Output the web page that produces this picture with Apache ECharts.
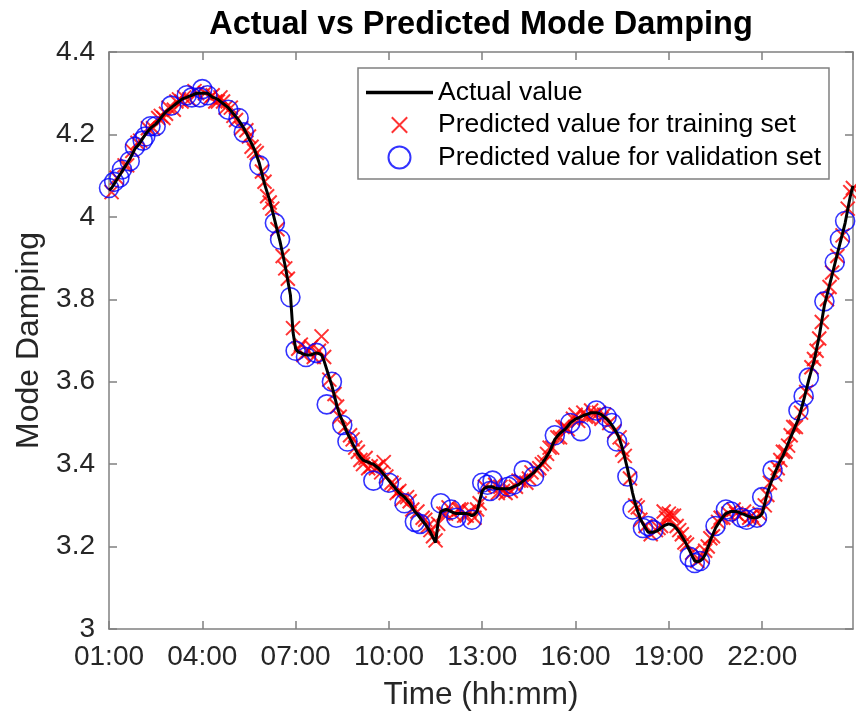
<!DOCTYPE html>
<html>
<head>
<meta charset="utf-8">
<script src="https://cdn.jsdelivr.net/npm/echarts@6/dist/echarts.min.js"></script>
<style>html,body{margin:0;padding:0;background:#fff;}#c{width:856px;height:716px;}</style>
</head>
<body>
<div id="c"></div>
<script>
const times = [
"01:00","01:05","01:10","01:15","01:20","01:25","01:30","01:35","01:40","01:45","01:50","01:55",
"02:00","02:05","02:10","02:15","02:20","02:25","02:30","02:35","02:40","02:45","02:50","02:55",
"03:00","03:05","03:10","03:15","03:20","03:25","03:30","03:35","03:40","03:45","03:50","03:55",
"04:00","04:05","04:10","04:15","04:20","04:25","04:30","04:35","04:40","04:45","04:50","04:55",
"05:00","05:05","05:10","05:15","05:20","05:25","05:30","05:35","05:40","05:45","05:50","05:55",
"06:00","06:05","06:10","06:15","06:20","06:25","06:30","06:35","06:40","06:45","06:50","06:55",
"07:00","07:05","07:10","07:15","07:20","07:25","07:30","07:35","07:40","07:45","07:50","07:55",
"08:00","08:05","08:10","08:15","08:20","08:25","08:30","08:35","08:40","08:45","08:50","08:55",
"09:00","09:05","09:10","09:15","09:20","09:25","09:30","09:35","09:40","09:45","09:50","09:55",
"10:00","10:05","10:10","10:15","10:20","10:25","10:30","10:35","10:40","10:45","10:50","10:55",
"11:00","11:05","11:10","11:15","11:20","11:25","11:30","11:35","11:40","11:45","11:50","11:55",
"12:00","12:05","12:10","12:15","12:20","12:25","12:30","12:35","12:40","12:45","12:50","12:55",
"13:00","13:05","13:10","13:15","13:20","13:25","13:30","13:35","13:40","13:45","13:50","13:55",
"14:00","14:05","14:10","14:15","14:20","14:25","14:30","14:35","14:40","14:45","14:50","14:55",
"15:00","15:05","15:10","15:15","15:20","15:25","15:30","15:35","15:40","15:45","15:50","15:55",
"16:00","16:05","16:10","16:15","16:20","16:25","16:30","16:35","16:40","16:45","16:50","16:55",
"17:00","17:05","17:10","17:15","17:20","17:25","17:30","17:35","17:40","17:45","17:50","17:55",
"18:00","18:05","18:10","18:15","18:20","18:25","18:30","18:35","18:40","18:45","18:50","18:55",
"19:00","19:05","19:10","19:15","19:20","19:25","19:30","19:35","19:40","19:45","19:50","19:55",
"20:00","20:05","20:10","20:15","20:20","20:25","20:30","20:35","20:40","20:45","20:50","20:55",
"21:00","21:05","21:10","21:15","21:20","21:25","21:30","21:35","21:40","21:45","21:50","21:55",
"22:00","22:05","22:10","22:15","22:20","22:25","22:30","22:35","22:40","22:45","22:50","22:55",
"23:00","23:05","23:10","23:15","23:20","23:25","23:30","23:35","23:40","23:45","23:50","23:55",
"00:00","00:05","00:10","00:15","00:20","00:25","00:30","00:35","00:40","00:45","00:50","00:55"
];
const actualValue = [
4.065,4.07,4.08,4.09,4.10,4.11,4.12,4.13,4.14,4.152,4.165,4.172,
4.18,4.19,4.20,4.208,4.215,4.22,4.225,4.232,4.24,4.248,4.255,4.26,
4.265,4.27,4.275,4.28,4.285,4.288,4.29,4.293,4.295,4.298,4.30,4.30,
4.30,4.30,4.30,4.295,4.29,4.288,4.285,4.28,4.275,4.27,4.265,4.258,
4.25,4.243,4.235,4.225,4.215,4.203,4.19,4.178,4.165,4.148,4.13,4.105,
4.08,4.06,4.04,4.015,3.99,3.965,3.94,3.91,3.88,3.845,3.81,3.72,
3.68,3.672,3.67,3.667,3.665,3.665,3.665,3.668,3.67,3.668,3.665,3.65,
3.63,3.61,3.59,3.565,3.54,3.52,3.505,3.49,3.475,3.462,3.45,3.437,
3.425,3.417,3.41,3.407,3.405,3.402,3.40,3.395,3.39,3.383,3.375,3.368,
3.36,3.352,3.345,3.337,3.33,3.325,3.32,3.312,3.305,3.295,3.285,3.278,
3.27,3.262,3.255,3.245,3.235,3.222,3.21,3.26,3.285,3.288,3.29,3.288,
3.285,3.282,3.28,3.28,3.28,3.28,3.28,3.278,3.275,3.278,3.285,3.31,
3.335,3.342,3.345,3.345,3.345,3.342,3.34,3.34,3.34,3.34,3.34,3.342,
3.345,3.348,3.35,3.355,3.36,3.365,3.37,3.375,3.38,3.388,3.395,3.402,
3.41,3.42,3.43,3.445,3.46,3.468,3.475,3.48,3.485,3.492,3.50,3.505,
3.51,3.512,3.515,3.518,3.52,3.522,3.525,3.525,3.525,3.523,3.52,3.515,
3.51,3.503,3.495,3.485,3.475,3.46,3.44,3.415,3.39,3.36,3.33,3.305,
3.285,3.268,3.255,3.245,3.235,3.235,3.235,3.237,3.24,3.245,3.25,3.253,
3.255,3.253,3.25,3.243,3.235,3.225,3.215,3.203,3.19,3.177,3.165,3.163,
3.165,3.17,3.18,3.197,3.215,3.23,3.245,3.255,3.265,3.273,3.28,3.283,
3.285,3.285,3.285,3.283,3.28,3.278,3.275,3.273,3.27,3.27,3.27,3.273,
3.28,3.305,3.33,3.348,3.365,3.38,3.395,3.408,3.42,3.435,3.45,3.465,
3.48,3.495,3.51,3.532,3.555,3.58,3.605,3.628,3.65,3.68,3.71,3.748,
3.785,3.81,3.835,3.86,3.885,3.91,3.935,3.96,3.985,4.018,4.05,4.075
];
const predictedValue = [
4.07,4.06,4.085,4.095,4.095,4.115,4.125,4.125,4.135,4.16,4.17,4.18,
4.185,4.185,4.195,4.215,4.22,4.215,4.22,4.24,4.245,4.24,4.25,4.265,
4.27,4.26,4.28,4.285,4.28,4.29,4.295,4.285,4.29,4.305,4.30,4.29,
4.31,4.30,4.295,4.29,4.295,4.28,4.28,4.29,4.28,4.265,4.26,4.265,
4.245,4.235,4.24,4.215,4.205,4.21,4.195,4.17,4.16,4.155,4.125,4.11,
4.085,4.05,4.035,4.02,3.985,3.97,3.945,3.905,3.875,3.85,3.805,3.73,
3.675,3.68,3.69,3.665,3.66,3.675,3.685,3.66,3.67,3.675,3.71,3.66,
3.545,3.605,3.60,3.57,3.54,3.515,3.495,3.49,3.455,3.47,3.46,3.44,
3.43,3.41,3.40,3.415,3.39,3.395,3.36,3.39,3.395,3.38,3.405,3.37,
3.355,3.355,3.35,3.33,3.335,3.315,3.305,3.32,3.31,3.29,3.26,3.285,
3.255,3.27,3.265,3.25,3.24,3.225,3.215,3.255,3.305,3.28,3.28,3.295,
3.29,3.28,3.27,3.29,3.29,3.275,3.275,3.285,3.265,3.27,3.29,3.305,
3.355,3.345,3.35,3.335,3.36,3.35,3.33,3.345,3.335,3.33,3.345,3.335,
3.35,3.345,3.36,3.36,3.385,3.355,3.365,3.38,3.37,3.385,3.39,3.40,
3.405,3.425,3.44,3.44,3.47,3.465,3.465,3.49,3.49,3.485,3.50,3.51,
3.52,3.505,3.48,3.525,3.515,3.515,3.53,3.52,3.53,3.525,3.51,3.52,
3.515,3.50,3.50,3.48,3.455,3.465,3.435,3.42,3.37,3.365,3.29,3.30,
3.295,3.265,3.245,3.25,3.25,3.23,3.24,3.24,3.245,3.25,3.285,3.27,
3.28,3.275,3.275,3.25,3.24,3.23,3.21,3.205,3.175,3.185,3.16,3.165,
3.165,3.175,3.19,3.20,3.22,3.225,3.25,3.26,3.27,3.27,3.29,3.28,
3.285,3.29,3.28,3.275,3.27,3.285,3.265,3.27,3.275,3.265,3.27,3.28,
3.32,3.30,3.325,3.355,3.385,3.375,3.39,3.41,3.43,3.43,3.445,3.47,
3.49,3.49,3.53,3.525,3.565,3.575,3.61,3.635,3.655,3.675,3.705,3.745,
3.795,3.80,3.83,3.865,3.89,3.905,3.945,3.955,3.99,4.02,4.06,4.07
];
// sample indices used for validation (all others are training samples)
const validationIdx = [0,2,4,5,8,10,13,14,16,18,24,30,32,35,36,38,46,50,52,58,64,66,70,72,76,80,84,86,90,92,102,108,114,118,120,128,132,134,140,144,146,147,148,154,156,160,164,172,178,182,188,192,194,196,200,202,206,208,210,224,226,228,234,238,240,244,246,250,252,256,266,268,270,276,280,282,284];
const yTicks = [3, 3.2, 3.4, 3.6, 3.8, 4, 4.2, 4.4];
const xTickLabels = ["01:00","04:00","07:00","10:00","13:00","16:00","19:00","22:00"];

const FONT = "'Liberation Sans', Arial, Helvetica, sans-serif";
function hoursSinceStart(t) {
  const p = t.split(':');
  let h = +p[0] + (+p[1]) / 60;
  if (h < 1) h += 24;
  return h - 1;
}
const vSet = new Set(validationIdx);
const actualData = times.map((t, i) => [hoursSinceStart(t), actualValue[i]]);
const trainData = [], validData = [];
times.forEach((t, i) => {
  const pt = [hoursSinceStart(t), predictedValue[i]];
  if (vSet.has(i)) validData.push(pt); else trainData.push(pt);
});

const axisColor = '#808080';
const textColor = '#262626';
const xMax = 23.92;
const xCommon = {
  type: 'value', min: 0, max: xMax, interval: 3,
  axisLine: { show: true, onZero: false, lineStyle: { color: axisColor, width: 1.5 } },
  axisTick: { show: true, inside: true, length: 8, lineStyle: { color: axisColor, width: 1.5 } },
  splitLine: { show: false }
};
const yCommon = {
  type: 'value', min: yTicks[0], max: yTicks[yTicks.length - 1], interval: 0.2,
  axisLine: { show: true, onZero: false, lineStyle: { color: axisColor, width: 1.5 } },
  axisTick: { show: true, inside: true, length: 8, lineStyle: { color: axisColor, width: 1.5 } },
  splitLine: { show: false }
};

const chart = echarts.init(document.getElementById('c'), null, { renderer: 'canvas' });
chart.setOption({
  animation: false,
  backgroundColor: '#fff',
  title: {
    text: 'Actual vs Predicted Mode Damping',
    left: 476, top: 4, textAlign: 'center',
    textStyle: { fontFamily: FONT, fontSize: 32.5, fontWeight: 'bold', color: '#000' }
  },
  grid: { left: 109, right: 3, top: 52, bottom: 87, containLabel: false },
  legend: {
    orient: 'vertical', left: 358, top: 68,
    padding: [11, 8, 8, 8], itemGap: 5.5, itemWidth: 67, itemHeight: 22,
    borderColor: axisColor, borderWidth: 1.5, backgroundColor: '#fff',
    textStyle: { fontFamily: FONT, fontSize: 26.5, color: '#000' },
    data: [
      { name: 'Actual value', icon: 'path://M0,0H67V3.5H0Z', itemStyle: { color: '#000' } },
      { name: 'Predicted value for training set' },
      { name: 'Predicted value for validation set' }
    ]
  },
  xAxis: [
    Object.assign({}, xCommon, {
      position: 'bottom',
      name: 'Time (hh:mm)', nameLocation: 'middle', nameGap: 50,
      nameTextStyle: { fontFamily: FONT, fontSize: 31.5, color: textColor },
      axisLabel: {
        show: true, margin: 14, fontFamily: FONT, fontSize: 28, color: textColor,
        showMaxLabel: false,
        formatter: v => xTickLabels[Math.round(v / 3)] || ''
      }
    }),
    Object.assign({}, xCommon, { position: 'top', axisLabel: { show: false } })
  ],
  yAxis: [
    Object.assign({}, yCommon, {
      position: 'left',
      name: 'Mode Damping', nameLocation: 'middle', nameGap: 54,
      nameTextStyle: { fontFamily: FONT, fontSize: 32, color: textColor },
      axisLabel: {
        show: true, margin: 14, fontFamily: FONT, fontSize: 28, color: textColor,
        formatter: v => String(+v.toFixed(1))
      }
    }),
    Object.assign({}, yCommon, { position: 'right', axisLabel: { show: false } })
  ],
  series: [
    {
      name: 'Predicted value for training set', type: 'scatter', xAxisIndex: 0, yAxisIndex: 0,
      data: trainData,
      symbol: 'path://M0,0M3,3L17,17M17,3L3,17M20,20', symbolSize: 20,
      itemStyle: { color: 'rgba(0,0,0,0)', borderColor: '#ff0000', borderWidth: 2 },
      z: 2
    },
    {
      name: 'Predicted value for validation set', type: 'scatter', xAxisIndex: 0, yAxisIndex: 0,
      data: validData,
      symbol: 'circle', symbolSize: 19,
      itemStyle: { color: 'rgba(0,0,0,0)', borderColor: '#0000ff', borderWidth: 1.6 },
      z: 3
    },
    {
      name: 'Actual value', type: 'line', xAxisIndex: 0, yAxisIndex: 0,
      data: actualData, showSymbol: false, symbol: 'none',
      lineStyle: { color: '#000', width: 3 }, itemStyle: { color: '#000' },
      z: 4
    }
  ]
});
</script>
</body>
</html>
